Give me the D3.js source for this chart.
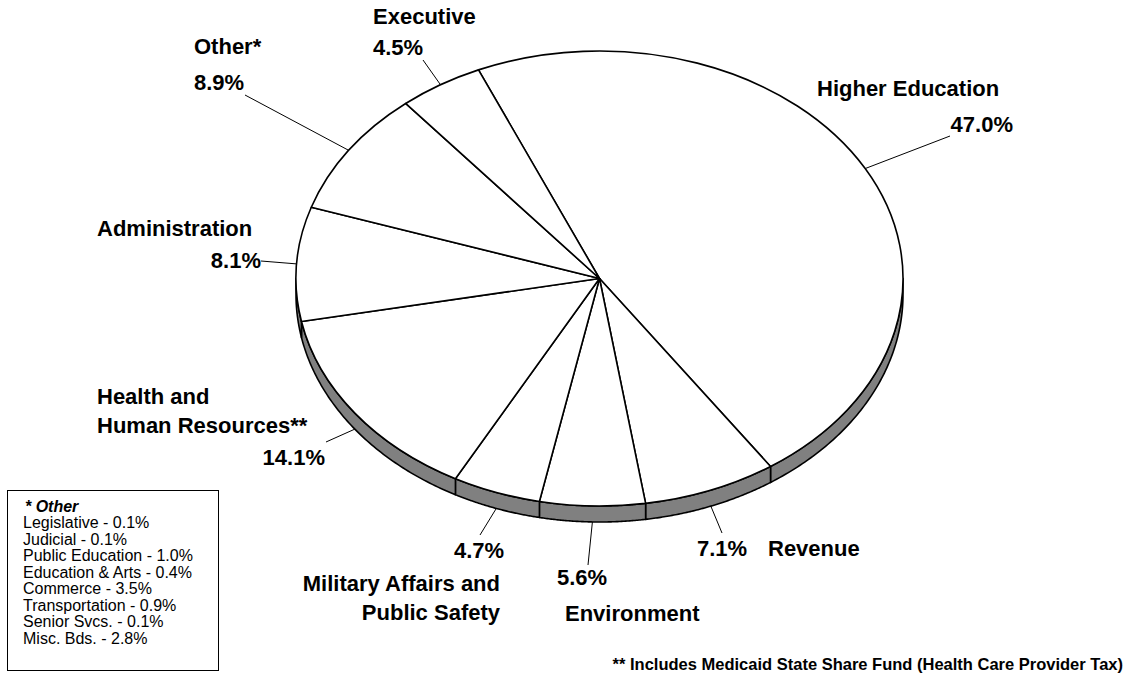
<!DOCTYPE html>
<html>
<head>
<meta charset="utf-8">
<script src="https://cdn.jsdelivr.net/npm/d3@7"></script>
<style>
  html, body { margin: 0; padding: 0; background: #fff; }
  svg { display: block; font-family: "Liberation Sans", Arial, sans-serif; }
</style>
</head>
<body>
<svg id="chart" width="1129" height="685"></svg>
<script>
// Budget shares by department (percent), clockwise from the top
const categories = ["Higher Education", "Revenue", "Environment",
  "Military Affairs and Public Safety", "Health and Human Resources**",
  "Administration", "Other*", "Executive"];
const shares = [47.0, 7.1, 5.6, 4.7, 14.1, 8.1, 8.9, 4.5];

// Breakdown of the "Other" slice
const otherItems = ["Legislative", "Judicial", "Public Education", "Education & Arts",
  "Commerce", "Transportation", "Senior Svcs.", "Misc. Bds."];
const otherShares = [0.1, 0.1, 1.0, 0.4, 3.5, 0.9, 0.1, 2.8];

const footnote = "** Includes Medicaid State Share Fund (Health Care Provider Tax)";

// ---- geometry of the tilted pie ----
const cx = 599.5, cy = 278.5, rx = 303.5, ry = 227.5, depth = 16;
const startDeg = -23.5;
const rad = d => d * Math.PI / 180;

// label placement: name lines [x, baseline, anchor], percent [x, baseline, anchor], leader end
const labelLayout = {
  "Higher Education": { lines: ["Higher Education"], name: [[817, 96, "start"]], pct: [1013, 132, "end"], lead: [950, 136] },
  "Revenue": { lines: ["Revenue"], name: [[768, 556, "start"]], pct: [697, 556, "start"], lead: [722, 533] },
  "Environment": { lines: ["Environment"], name: [[565, 621, "start"]], pct: [557, 585, "start"], lead: [588, 565] },
  "Military Affairs and Public Safety": { lines: ["Military Affairs and", "Public Safety"], name: [[500, 591, "end"], [500, 620, "end"]], pct: [454, 558, "start"], lead: [480, 535] },
  "Health and Human Resources**": { lines: ["Health and", "Human Resources**"], name: [[97, 404, "start"], [97, 433, "start"]], pct: [325, 465, "end"], lead: [326, 442] },
  "Administration": { lines: ["Administration"], name: [[97, 236, "start"]], pct: [261, 268, "end"], lead: [261, 261] },
  "Other*": { lines: ["Other*"], name: [[194, 54, "start"]], pct: [194, 90, "start"], lead: [245, 95] },
  "Executive": { lines: ["Executive"], name: [[373, 24, "start"]], pct: [373, 55, "start"], lead: [423, 60] }
};

const svg = d3.select("#chart");

const pie = d3.pie()
  .sort(null)
  .startAngle(rad(startDeg))
  .endAngle(rad(startDeg) + 2 * Math.PI);

const slices = pie(shares).map((d, i) => Object.assign(d, { name: categories[i] }));

// point on the ellipse rim for a d3 angle (0 = top, clockwise)
const rim = (a, dy = 0) => [cx + rx * Math.sin(a), cy - ry * Math.cos(a) + dy];

// ---- side wall (visible front half: angles PI/2 .. 3PI/2) ----
const wall = svg.append("g");
slices.forEach(s => {
  const lo = Math.max(s.startAngle, Math.PI / 2);
  const hi = Math.min(s.endAngle, 3 * Math.PI / 2);
  if (hi <= lo) return;
  const steps = d3.range(0, 81).map(k => lo + (hi - lo) * k / 80);
  const top = steps.map(a => rim(a));
  const bottom = steps.slice().reverse().map(a => rim(a, depth));
  wall.append("path")
    .attr("d", d3.line()(top.concat(bottom)) + "Z")
    .attr("fill", "#808080")
    .attr("stroke", "#000")
    .attr("stroke-width", 1.6)
    .attr("stroke-linejoin", "round");
});

// ---- top face ----
const arc = d3.arc().innerRadius(0).outerRadius(rx);
svg.append("g")
  .attr("transform", `translate(${cx},${cy}) scale(1,${ry / rx})`)
  .selectAll("path")
  .data(slices)
  .join("path")
  .attr("d", arc)
  .attr("fill", "#fff")
  .attr("stroke", "#000")
  .attr("stroke-width", 1.6)
  .attr("stroke-linejoin", "round")
  .attr("vector-effect", "non-scaling-stroke");

// ---- leader lines ----
const fmt = v => v.toFixed(1) + "%";
svg.append("g")
  .selectAll("line")
  .data(slices)
  .join("line")
  .each(function (s) {
    const mid = (s.startAngle + s.endAngle) / 2;
    const front = Math.cos(mid) < 0;
    const p = rim(mid, front ? depth : 0);
    const e = labelLayout[s.name].lead;
    d3.select(this)
      .attr("x1", p[0]).attr("y1", p[1])
      .attr("x2", e[0]).attr("y2", e[1]);
  })
  .attr("stroke", "#000")
  .attr("stroke-width", 1);

// ---- slice labels ----
const labels = svg.append("g")
  .attr("font-weight", "bold")
  .attr("font-size", 22)
  .attr("fill", "#000");

slices.forEach(s => {
  const L = labelLayout[s.name];
  L.lines.forEach((t, i) => {
    const [x, y, anchor] = L.name[i];
    labels.append("text").attr("x", x).attr("y", y).attr("text-anchor", anchor).text(t);
  });
  labels.append("text")
    .attr("x", L.pct[0]).attr("y", L.pct[1]).attr("text-anchor", L.pct[2])
    .text(fmt(s.data));
});

// ---- "Other" breakdown box ----
const box = svg.append("g");
box.append("rect")
  .attr("x", 7.5).attr("y", 490.5).attr("width", 211).attr("height", 180)
  .attr("fill", "#fff").attr("stroke", "#000").attr("stroke-width", 1);
box.append("text")
  .attr("x", 25).attr("y", 512)
  .attr("font-size", 16).attr("font-weight", "bold").attr("font-style", "italic")
  .text("* Other");
const rowY = d3.scalePoint().domain(otherItems).range([528, 644]);
box.selectAll("text.item")
  .data(otherItems)
  .join("text")
  .attr("class", "item")
  .attr("x", 23)
  .attr("y", d => rowY(d))
  .attr("font-size", 16)
  .text((d, i) => `${d} - ${fmt(otherShares[i])}`);

// ---- footnote ----
svg.append("text")
  .attr("x", 1123).attr("y", 670)
  .attr("text-anchor", "end")
  .attr("font-size", 16.5).attr("font-weight", "bold")
  .text(footnote);
</script>
</body>
</html>
